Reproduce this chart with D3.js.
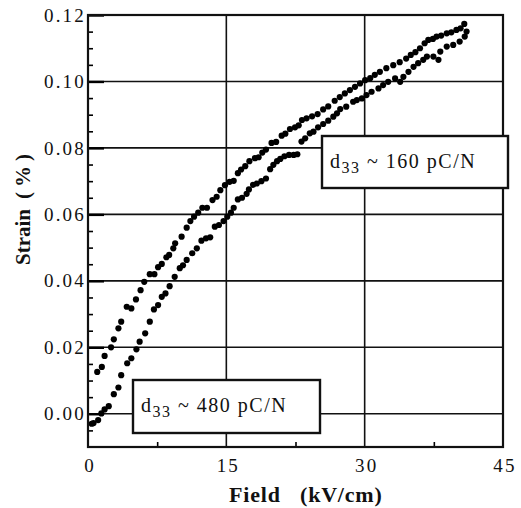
<!DOCTYPE html>
<html>
<head>
<meta charset="utf-8">
<script src="https://cdnjs.cloudflare.com/ajax/libs/d3/7.8.5/d3.min.js"></script>
<style>
body { margin: 0; background: #fff; }
text { font-family: "Liberation Serif", "Times New Roman", serif; fill: #111; }
</style>
</head>
<body>
<script>
var w = 521;
var h = 508;

// upper branch of the loop (field kV/cm, strain %)
var fieldUp = [1.0, 1.5, 1.8, 2.5, 2.8, 3.3, 3.6, 4.2, 4.7, 5.2, 5.7, 6.1, 6.7, 7.2, 7.6, 8.0, 8.5, 8.8,
  9.25, 9.45, 10.15, 10.7, 11.1, 11.5, 11.95, 12.4, 12.9, 13.5, 13.95, 14.35, 14.85, 15.35, 15.8,
  16.25, 16.6, 17.05, 17.5, 18.1, 18.5, 18.9, 19.3, 19.9, 20.4, 21.0, 21.4, 21.9, 22.45, 22.85,
  23.2, 23.7, 24.3, 24.9, 25.5, 26.05, 26.75, 27.3, 27.85, 28.4, 28.95, 29.5, 30.05, 30.6, 31.1,
  31.65, 32.35, 33.1, 33.8, 34.5, 35.0, 35.5, 36.0, 36.5, 36.9, 37.4, 37.8, 38.3, 38.9, 39.4,
  39.95, 40.4, 40.8];
var strainUp = [0.0126, 0.0141, 0.0174, 0.0200, 0.0224, 0.0257, 0.0277, 0.0322, 0.0317, 0.0344, 0.0372,
  0.0397, 0.0420, 0.0420, 0.0441, 0.0451, 0.0471, 0.0478, 0.0498, 0.0513, 0.0533, 0.0560, 0.0580,
  0.0593, 0.0605, 0.0620, 0.0620, 0.0643, 0.0653, 0.0673, 0.0688, 0.0698, 0.0701, 0.0724, 0.0735,
  0.0745, 0.0760, 0.0769, 0.0772, 0.0786, 0.0795, 0.0815, 0.0818, 0.0837, 0.0843, 0.0857, 0.0862,
  0.0868, 0.0884, 0.0889, 0.0895, 0.0902, 0.0916, 0.0925, 0.0942, 0.0953, 0.0964, 0.0974, 0.0984,
  0.0994, 0.1004, 0.1010, 0.1020, 0.1029, 0.1040, 0.1049, 0.1058, 0.1069, 0.1080, 0.1088, 0.1100,
  0.1115, 0.1125, 0.1128, 0.1135, 0.1138, 0.1145, 0.1148, 0.1155, 0.1160, 0.1173];

// lower branch of the loop
var fieldDown = [0.4, 0.6, 1.1, 1.45, 1.8, 2.25, 2.8, 3.3, 3.6, 4.25, 4.7, 5.25, 5.6, 6.2, 6.7, 7.15,
  7.6, 8.0, 8.4, 8.85, 9.4, 9.95, 10.3, 10.7, 11.3, 11.8, 12.3, 12.8, 13.25, 13.75, 14.2, 14.7,
  15.1, 15.5, 15.8, 16.25, 16.7, 17.2, 17.45, 17.9, 18.3, 18.8, 19.3, 19.75, 20.1, 20.5, 20.85,
  21.3, 21.8, 22.3, 22.7, 23.15, 23.55, 24.05, 24.45, 24.95, 25.5, 26.05, 26.6, 27.0, 27.35, 28.0,
  28.75, 29.15, 29.7, 30.2, 30.75, 31.5, 32.0, 32.55, 33.3, 33.85, 34.2, 34.75, 35.3, 35.8, 36.35,
  36.75, 37.45, 38.0, 38.2, 38.9, 39.6, 40.3, 40.85, 41.05];
var strainDown = [-0.0030, -0.0028, -0.0019, 0.0001, 0.0013, 0.0023, 0.0059, 0.0079, 0.0116, 0.0152,
  0.0167, 0.0194, 0.0217, 0.0242, 0.0277, 0.0314, 0.0327, 0.0352, 0.0362, 0.0384, 0.0412, 0.0438,
  0.0447, 0.0463, 0.0483, 0.0498, 0.0521, 0.0528, 0.0531, 0.0563, 0.0568, 0.0580, 0.0593, 0.0605,
  0.0620, 0.0645, 0.0650, 0.0662, 0.0675, 0.0689, 0.0693, 0.0700, 0.0708, 0.0736, 0.0749, 0.0760,
  0.0767, 0.0775, 0.0779, 0.0779, 0.0781, 0.0819, 0.0829, 0.0844, 0.0849, 0.0862, 0.0872, 0.0882,
  0.0894, 0.0904, 0.0917, 0.0924, 0.0939, 0.0944, 0.0949, 0.0959, 0.0969, 0.0979, 0.0989, 0.0999,
  0.1009, 0.0999, 0.1014, 0.1029, 0.1044, 0.1055, 0.1065, 0.1075, 0.1075, 0.1065, 0.1090, 0.1105,
  0.1110, 0.1120, 0.1135, 0.1150];

var xTicks = [0, 15, 30, 45];
var xMinor = [7.5, 22.5, 37.5];
var yTicks = [0.00, 0.02, 0.04, 0.06, 0.08, 0.10, 0.12];
var yTickLabels = ["0.00", "0.02", "0.04", "0.06", "0.08", "0.10", "0.12"];
var yMinor = [-0.005, 0.005, 0.010, 0.015, 0.025, 0.030, 0.035, 0.045, 0.050, 0.055, 0.065, 0.070,
  0.075, 0.085, 0.090, 0.095, 0.105, 0.110, 0.115];

var svg = d3.select("body")
            .append("svg")
              .attr("width", w)
              .attr("height", h);

var x = d3.scaleLinear().domain([0, 45]).range([88, 503]);
var y = d3.scaleLinear().domain([-0.01, 0.12]).range([447, 15]);

//grid lines
svg.selectAll(".hgrid")
  .data(yTicks.slice(0, -1))
  .enter().append("line")
  .attr("x1", x(0)).attr("x2", x(45))
  .attr("y1", function(d) { return y(d); })
  .attr("y2", function(d) { return y(d); })
  .attr("stroke", "#111").attr("stroke-width", 1.6);

svg.selectAll(".vgrid")
  .data([15, 30])
  .enter().append("line")
  .attr("x1", function(d) { return x(d); })
  .attr("x2", function(d) { return x(d); })
  .attr("y1", y(0.12)).attr("y2", y(-0.01))
  .attr("stroke", "#111").attr("stroke-width", 1.6);

//axes with inward ticks
var yAxis = d3.axisLeft(y).tickValues(yTicks).tickSize(-16).tickFormat("");
var yAxisMinor = d3.axisLeft(y).tickValues(yMinor).tickSize(-5).tickFormat("");
var xAxisMinor = d3.axisBottom(x).tickValues(xMinor).tickSize(-5).tickFormat("");

svg.append("g").attr("transform", "translate(" + x(0) + ",0)").call(yAxis)
  .call(function(g) { g.select(".domain").remove(); g.selectAll("line").attr("stroke-width", 2.4); });
svg.append("g").attr("transform", "translate(" + x(0) + ",0)").call(yAxisMinor)
  .call(function(g) { g.select(".domain").remove(); g.selectAll("line").attr("stroke-width", 1.6); });
svg.append("g").attr("transform", "translate(0," + y(-0.01) + ")").call(xAxisMinor)
  .call(function(g) { g.select(".domain").remove(); g.selectAll("line").attr("stroke-width", 1.6); });

//tick labels
svg.selectAll(".ylab")
  .data(yTicks)
  .enter().append("text")
  .attr("x", 86)
  .attr("y", function(d) { return y(d); })
  .attr("dy", "0.35em")
  .attr("text-anchor", "end")
  .style("font-size", "19px")
  .style("letter-spacing", "2.2px")
  .text(function(d, i) { return yTickLabels[i]; });

svg.selectAll(".xlab")
  .data(xTicks)
  .enter().append("text")
  .attr("x", function(d) { return x(d) + 2; })
  .attr("y", 472)
  .attr("text-anchor", "middle")
  .style("font-size", "19px")
  .style("letter-spacing", "2.2px")
  .text(function(d) { return d; });

//data points
var upPts = fieldUp.map(function(f, i) { return [f, strainUp[i]]; });
var downPts = fieldDown.map(function(f, i) { return [f, strainDown[i]]; });

svg.selectAll(".up")
  .data(upPts)
  .enter().append("circle")
  .attr("cx", function(d) { return x(d[0]); })
  .attr("cy", function(d) { return y(d[1]); })
  .attr("r", 3.1)
  .attr("fill", "#000");

svg.selectAll(".down")
  .data(downPts)
  .enter().append("circle")
  .attr("cx", function(d) { return x(d[0]); })
  .attr("cy", function(d) { return y(d[1]); })
  .attr("r", 3.1)
  .attr("fill", "#000");

//frame
svg.append("rect")
  .attr("x", x(0)).attr("y", y(0.12))
  .attr("width", x(45) - x(0)).attr("height", y(-0.01) - y(0.12))
  .attr("fill", "none").attr("stroke", "#111").attr("stroke-width", 2.2);

//annotation boxes
function note(bx, by, bw, bh, value) {
  svg.append("rect")
    .attr("x", bx).attr("y", by).attr("width", bw).attr("height", bh)
    .attr("fill", "#fff").attr("stroke", "#111").attr("stroke-width", 2.4);
  var t = svg.append("text")
    .attr("x", bx + 8).attr("y", by + 32)
    .style("font-size", "20px")
    .style("letter-spacing", "1.5px");
  t.append("tspan").text("d");
  t.append("tspan").attr("dy", 5).style("font-size", "16px").text("33");
  t.append("tspan").attr("dy", -5).text(" ~ " + value + " pC/N");
}
note(322, 136, 186, 52, "160");
note(133, 380, 187, 53, "480");

//axis titles
var xt = svg.append("text")
  .attr("x", 229).attr("y", 502)
  .style("font-size", "22px")
  .style("font-weight", "bold")
  .style("letter-spacing", "0.8px");
xt.append("tspan").text("Field");
xt.append("tspan").attr("x", 300).text("(kV/cm)");

var yt = svg.append("text")
  .attr("transform", "translate(30,265) rotate(-90)")
  .style("font-size", "21px")
  .style("font-weight", "bold");
yt.append("tspan").text("Strain");
yt.append("tspan").attr("dx", 10).style("letter-spacing", "5px").text("(%)");
</script>
</body>
</html>
